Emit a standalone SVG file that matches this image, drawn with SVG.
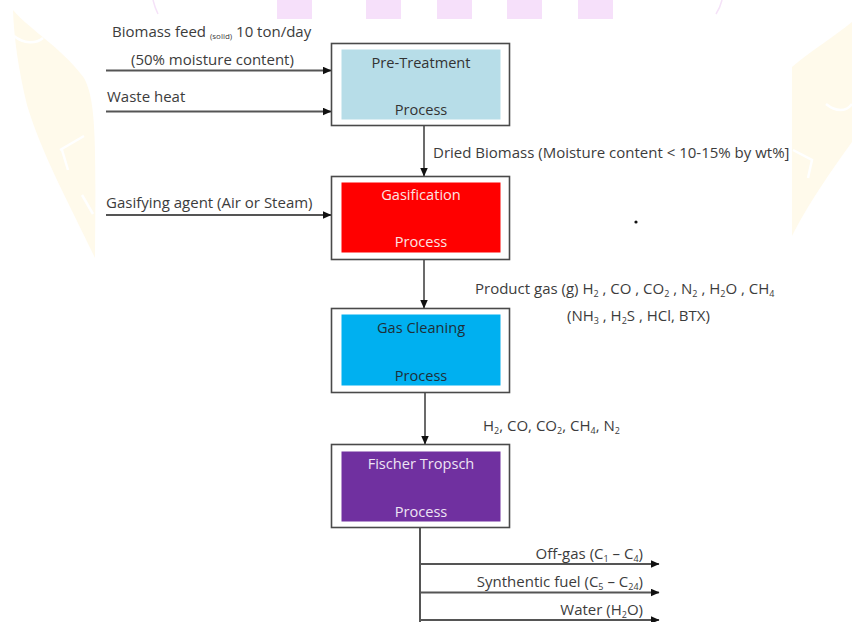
<svg xmlns="http://www.w3.org/2000/svg" width="852" height="622" viewBox="0 0 852 622">
  <style>
    .lbl { font-family: "Open Sans", "Noto Sans", "DejaVu Sans", sans-serif; font-size: 15px; fill: #3c3c3c; }
    .nlbl { font-family: "Open Sans", "Noto Sans", "DejaVu Sans", sans-serif; font-size: 14.6px; text-anchor: middle; }
    .frame { fill: #ffffff; stroke: #4a4a4a; stroke-width: 1.6; }
    .flow { stroke: #3a3a3a; stroke-width: 1.5; fill: none; }
    .feed { stroke: #555555; stroke-width: 2; fill: none; }
    .mark-pink { fill: #f6e0fa; }
    .mark-gold { fill: #fffaeb; }
  </style>
  <defs>
    <marker id="arrow" markerUnits="userSpaceOnUse" markerWidth="9" markerHeight="8" refX="8.5" refY="4" orient="auto">
      <path d="M0,0 L9,4 L0,8 Z" fill="#111111"/>
    </marker>
  </defs>

  <rect width="852" height="622" fill="#ffffff"/>

  <!-- faint background emblem -->
  <g id="background-emblem">
    <rect class="mark-pink" x="277" y="0" width="35" height="19"/>
    <rect class="mark-pink" x="366" y="0" width="35" height="19"/>
    <rect class="mark-pink" x="437" y="0" width="35" height="19"/>
    <rect class="mark-pink" x="507" y="0" width="35" height="19"/>
    <rect class="mark-pink" x="578" y="0" width="35" height="19"/>
    <path d="M153,0 Q155,8 158,14" stroke="#f5e2f8" stroke-width="1.5" fill="none"/>
    <path d="M722,0 Q720,8 716,14" stroke="#f5e2f8" stroke-width="1.5" fill="none"/>
    <path class="mark-gold" d="M13,10 C30,30 62,48 84,78 C96,100 96,140 95,258 C70,205 42,155 27,105 C19,72 14,40 13,10 Z"/>
    <path d="M14,36 C24,44 36,44 43,38" stroke="#ffffff" stroke-width="2.5" fill="none"/>
    <path d="M60,150 L84,136 M62,150 L68,170 M82,195 L93,214" stroke="#ffffff" stroke-width="2.5" fill="none"/>
    <path class="mark-gold" d="M792,67 C812,50 835,36 852,22 L852,142 C830,172 806,208 792,236 Z"/>
    <path d="M826,104 C836,112 846,112 852,104" stroke="#ffffff" stroke-width="2.5" fill="none"/>
    <path d="M793,150 L812,160 L808,178" stroke="#ffffff" stroke-width="2.5" fill="none"/>
  </g>

  <!-- connectors -->
  <g id="connectors">
    <line class="feed" x1="106" y1="70.5" x2="331" y2="70.5" marker-end="url(#arrow)"/>
    <line class="feed" x1="106" y1="111.5" x2="331" y2="111.5" marker-end="url(#arrow)"/>
    <line class="feed" x1="106" y1="215" x2="331" y2="215" marker-end="url(#arrow)"/>
    <line class="flow" x1="424" y1="126" x2="424" y2="176" marker-end="url(#arrow)"/>
    <line class="flow" x1="424" y1="260" x2="424" y2="308" marker-end="url(#arrow)"/>
    <line class="flow" x1="425" y1="393" x2="425" y2="444" marker-end="url(#arrow)"/>
    <line class="feed" x1="420" y1="528" x2="420" y2="622"/>
    <line class="feed" x1="420" y1="564" x2="659" y2="564" marker-end="url(#arrow)"/>
    <line class="feed" x1="420" y1="592.5" x2="659" y2="592.5" marker-end="url(#arrow)"/>
    <line class="feed" x1="420" y1="620" x2="659" y2="620" marker-end="url(#arrow)"/>
  </g>

  <!-- stream labels -->
  <g id="stream-labels">
    <text class="lbl" x="112" y="37">Biomass feed <tspan font-size="8" dy="2">(solid)</tspan><tspan dy="-2"> 10 ton/day</tspan></text>
    <text class="lbl" x="131" y="65">(50% moisture content)</text>
    <text class="lbl" x="107" y="102">Waste heat</text>
    <text class="lbl" x="433" y="158">Dried Biomass (Moisture content &lt; 10-15% by wt%]</text>
    <text class="lbl" x="106" y="208">Gasifying agent (Air or Steam)</text>
    <text class="lbl" x="475" y="294">Product gas (g) H<tspan font-size="9" dy="3">2</tspan><tspan dy="-3"> , CO , CO</tspan><tspan font-size="9" dy="3">2</tspan><tspan dy="-3"> , N</tspan><tspan font-size="9" dy="3">2</tspan><tspan dy="-3"> , H</tspan><tspan font-size="9" dy="3">2</tspan><tspan dy="-3">O , CH</tspan><tspan font-size="9" dy="3">4</tspan></text>
    <text class="lbl" x="567" y="321">(NH<tspan font-size="9" dy="3">3</tspan><tspan dy="-3"> , H</tspan><tspan font-size="9" dy="3">2</tspan><tspan dy="-3">S , HCl, BTX)</tspan></text>
    <text class="lbl" x="483" y="431">H<tspan font-size="9" dy="3">2</tspan><tspan dy="-3">, CO, CO</tspan><tspan font-size="9" dy="3">2</tspan><tspan dy="-3">, CH</tspan><tspan font-size="9" dy="3">4</tspan><tspan dy="-3">, N</tspan><tspan font-size="9" dy="3">2</tspan></text>
    <text class="lbl" x="643" y="559" text-anchor="end">Off-gas (C<tspan font-size="9" dy="3">1</tspan><tspan dy="-3"> – C</tspan><tspan font-size="9" dy="3">4</tspan><tspan dy="-3">)</tspan></text>
    <text class="lbl" x="643" y="587" text-anchor="end">Synthentic fuel (C<tspan font-size="9" dy="3">5</tspan><tspan dy="-3"> – C</tspan><tspan font-size="9" dy="3">24</tspan><tspan dy="-3">)</tspan></text>
    <text class="lbl" x="643" y="615" text-anchor="end">Water (H<tspan font-size="9" dy="3">2</tspan><tspan dy="-3">O)</tspan></text>
    <circle cx="636" cy="222" r="1.6" fill="#111111"/>
  </g>

  <!-- process nodes -->
  <g id="pre-treatment">
    <rect class="frame" x="331.5" y="43.5" width="178" height="82"/>
    <rect x="341.5" y="49.5" width="159" height="70" fill="#b7dde8"/>
    <text class="nlbl" x="421" y="68" fill="#333333">Pre-Treatment</text>
    <text class="nlbl" x="421" y="115" fill="#333333">Process</text>
  </g>
  <g id="gasification">
    <rect class="frame" x="331.5" y="176.5" width="178" height="83"/>
    <rect x="341.5" y="182.5" width="159" height="70" fill="#ff0000"/>
    <text class="nlbl" x="421" y="200" fill="#fbe3e3">Gasification</text>
    <text class="nlbl" x="421" y="247" fill="#fbe3e3">Process</text>
  </g>
  <g id="gas-cleaning">
    <rect class="frame" x="331.5" y="308.5" width="178" height="84"/>
    <rect x="341.5" y="314.5" width="159" height="71" fill="#00b0f0"/>
    <text class="nlbl" x="421" y="333" fill="#1e2f38">Gas Cleaning</text>
    <text class="nlbl" x="421" y="381" fill="#1e2f38">Process</text>
  </g>
  <g id="fischer-tropsch">
    <rect class="frame" x="331.5" y="444.5" width="178" height="83"/>
    <rect x="341.5" y="451.5" width="159" height="70" fill="#7030a0"/>
    <text class="nlbl" x="421" y="469" fill="#eee4f4">Fischer Tropsch</text>
    <text class="nlbl" x="421" y="517" fill="#eee4f4">Process</text>
  </g>
</svg>
